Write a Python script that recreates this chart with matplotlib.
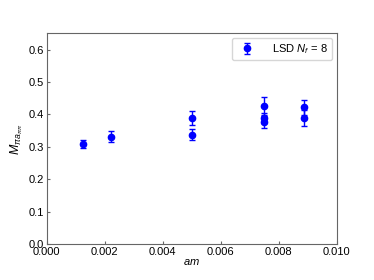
import matplotlib as mpl
mpl.use('Agg')
import matplotlib.pyplot as plt

# data
am = [0.00124, 0.00222, 0.0050, 0.0050, 0.0075, 0.0075, 0.0075, 0.00887, 0.00887]
m_a = [0.309, 0.331, 0.389, 0.338, 0.426, 0.388, 0.376, 0.422, 0.389]
err = [0.011, 0.017, 0.022, 0.018, 0.027, 0.015, 0.019, 0.024, 0.024]

plt.rcParams['font.family'] = ['Liberation Sans', 'DejaVu Sans']
plt.rcParams['mathtext.fontset'] = 'custom'
plt.rcParams['mathtext.it'] = 'Liberation Sans:italic'
plt.rcParams['mathtext.rm'] = 'Liberation Sans'

fig = plt.figure(figsize=(3.74, 2.80), dpi=100)
ax = fig.add_axes([46.7/374, 1-244.3/280, 290/374, 211/280])
ax.errorbar(am, m_a, yerr=err, fmt='o', color='blue', markersize=4.5,
            capsize=2, elinewidth=1, capthick=1, label=r'LSD $N_f\,=\,8$')
ax.set_xlim(0, 0.010)
ax.set_ylim(0, 0.65)
ax.set_xticks([0, 0.002, 0.004, 0.006, 0.008, 0.010])
ax.set_xticklabels(['0.000', '0.002', '0.004', '0.006', '0.008', '0.010'])
ax.set_yticks([0, 0.1, 0.2, 0.3, 0.4, 0.5, 0.6])
ax.tick_params(direction='in', labelsize=8, length=2.5, color='#666666', pad=2)
for s in ax.spines.values():
    s.set_color('#666666')
ax.set_xlabel(r'$am$', fontsize=8, labelpad=0)
ax.set_ylabel(r'$M_{\pi a_{\pi\pi}}$', fontsize=9, labelpad=2.5)
ax.legend(loc='upper right', fontsize=8, handletextpad=1.2, borderaxespad=0.4)
fig.savefig('out.png', dpi=100)
